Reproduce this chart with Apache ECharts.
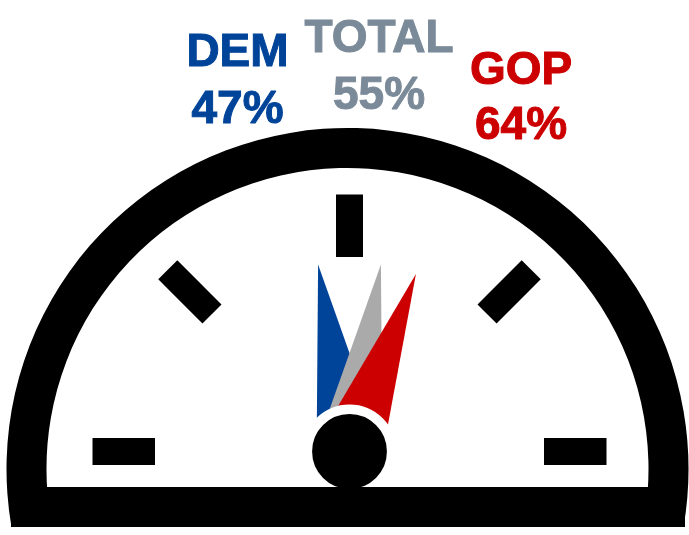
<!DOCTYPE html>
<html>
<head>
<meta charset="utf-8">
<style>html,body{margin:0;padding:0;background:#fff}#c{width:689px;height:535px}</style>
<script src="https://cdn.jsdelivr.net/npm/echarts@6/dist/echarts.min.js"></script>
</head>
<body>
<div id="c"></div>
<script>
const names = ['DEM', 'TOTAL', 'GOP'];
const percentLabels = [47, 55, 64];
const needleValues = [44.7, 55.3, 61.4];
const needleColors = ['#004499', '#aaaaaa', '#cc0000'];
const textColors = ['#004499', '#7a8a99', '#cc0000'];
const font = '"Liberation Sans", Arial, sans-serif';
const hub = [349.5, 451.5];
const titleCenters = [[237.5, 53.5], [379, 39.5], [521, 71]];
const valueCenters = [[237.5, 110], [379, 96], [521, 126]];

const textStyle = i => ({
  color: textColors[i], fontSize: 46, fontWeight: 'bold', fontFamily: font,
  textBorderColor: textColors[i], textBorderWidth: 1
});

const chart = echarts.init(document.getElementById('c'), null, {renderer: 'canvas'});
chart.setOption({
  animation: false,
  backgroundColor: '#fff',
  graphic: [{
    type: 'rect', z: 100,
    shape: {x: 11, y: 487, width: 674, height: 40},
    style: {fill: '#000'}
  }],
  series: [
    {
      type: 'gauge', silent: true,
      center: [347.5, 469], radius: 341,
      startAngle: 189.7, endAngle: -9.7,
      axisLine: {lineStyle: {width: 40, color: [[1, '#000']]}},
      axisTick: {show: false}, splitLine: {show: false}, axisLabel: {show: false},
      pointer: {show: false}, anchor: {show: false},
      title: {show: false}, detail: {show: false},
      data: [{value: 0}]
    },
    {
      type: 'gauge', silent: true,
      center: hub, radius: 257,
      startAngle: 180, endAngle: 0, min: 0, max: 100, splitNumber: 4,
      axisLine: {show: false, lineStyle: {width: 0}},
      axisTick: {show: false},
      axisLabel: {show: false},
      splitLine: {distance: 0, length: 62.5, lineStyle: {color: '#000', width: 27}},
      pointer: {icon: 'triangle', length: 189.5, width: 66.8},
      anchor: {
        show: true, showAbove: true, size: 84.4,
        itemStyle: {color: '#000', borderColor: '#fff', borderWidth: 9.6}
      },
      data: names.map((name, i) => ({
        name,
        value: needleValues[i],
        itemStyle: {color: needleColors[i]},
        title: Object.assign({
          offsetCenter: [titleCenters[i][0] - hub[0], titleCenters[i][1] - hub[1]]
        }, textStyle(i)),
        detail: Object.assign({
          offsetCenter: [valueCenters[i][0] - hub[0], valueCenters[i][1] - hub[1]],
          formatter: percentLabels[i] + '%', valueAnimation: false
        }, textStyle(i))
      }))
    }
  ]
});
</script>
</body>
</html>
